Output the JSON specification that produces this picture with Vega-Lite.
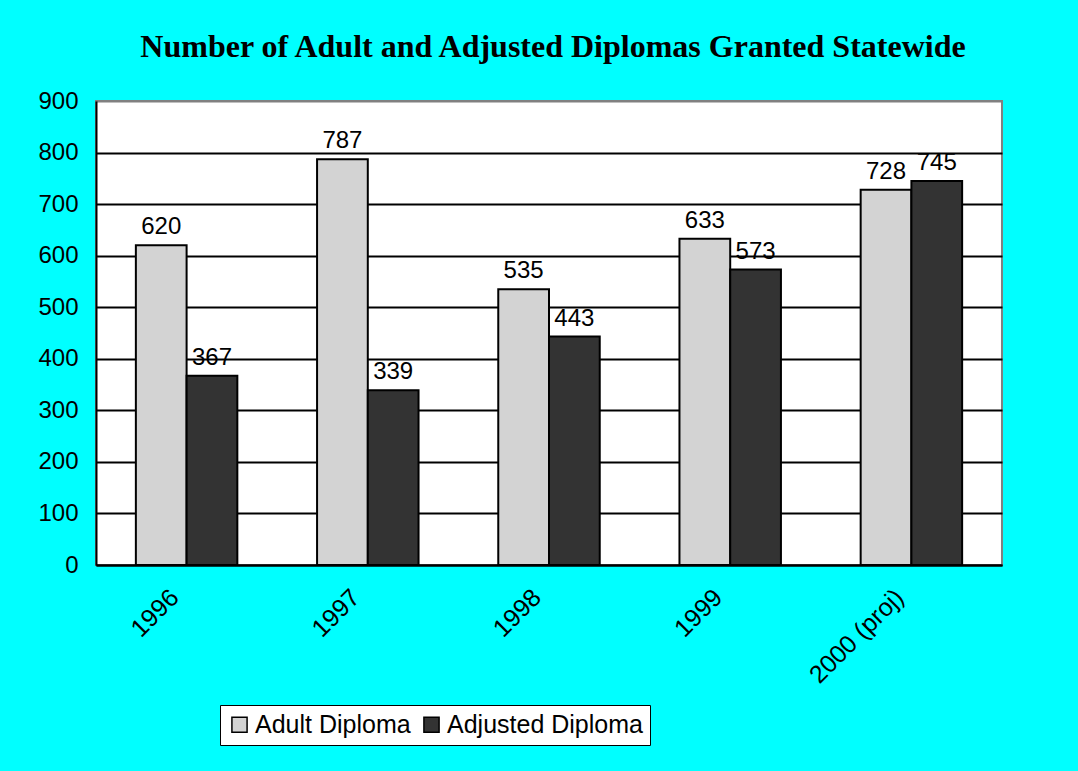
{
  "$schema": "https://vega.github.io/schema/vega-lite/v6.json",
  "autosize": "none",
  "width": 906,
  "height": 464,
  "padding": {"left": 96, "top": 101, "right": 76, "bottom": 206},
  "background": "#00ffff",
  "title": {
    "text": "Number of Adult and Adjusted Diplomas Granted Statewide",
    "font": "Liberation Serif",
    "fontSize": 32,
    "fontWeight": "bold",
    "color": "black",
    "anchor": "middle",
    "dx": 4,
    "offset": 25
  },
  "config": {
    "view": {"fill": "white", "stroke": "#808080", "strokeWidth": 2},
    "font": "Liberation Sans"
  },
  "data": {
    "values": [
      {"year": "1996", "series": "Adult Diploma", "value": 620},
      {"year": "1996", "series": "Adjusted Diploma", "value": 367},
      {"year": "1997", "series": "Adult Diploma", "value": 787},
      {"year": "1997", "series": "Adjusted Diploma", "value": 339},
      {"year": "1998", "series": "Adult Diploma", "value": 535},
      {"year": "1998", "series": "Adjusted Diploma", "value": 443},
      {"year": "1999", "series": "Adult Diploma", "value": 633},
      {"year": "1999", "series": "Adjusted Diploma", "value": 573},
      {"year": "2000 (proj)", "series": "Adult Diploma", "value": 728},
      {"year": "2000 (proj)", "series": "Adjusted Diploma", "value": 745}
    ]
  },
  "encoding": {
    "x": {
      "field": "year",
      "type": "nominal",
      "sort": null,
      "scale": {"paddingInner": 0.44, "paddingOuter": 0.22},
      "axis": {
        "title": null,
        "labelAngle": -45,
        "labelAlign": "right",
        "labelBaseline": "middle",
        "labelFontSize": 25,
        "labelColor": "black",
        "labelPadding": 28,
        "labelOffset": -12,
        "ticks": false,
        "domainColor": "black",
        "domainWidth": 2
      }
    },
    "xOffset": {
      "field": "series",
      "type": "nominal",
      "sort": ["Adult Diploma", "Adjusted Diploma"],
      "scale": {"paddingInner": 0, "paddingOuter": 0}
    },
    "y": {
      "field": "value",
      "type": "quantitative",
      "scale": {"domain": [0, 900], "nice": false},
      "axis": {
        "title": null,
        "values": [0, 100, 200, 300, 400, 500, 600, 700, 800, 900],
        "labelFontSize": 24,
        "labelColor": "black",
        "labelPadding": 18,
        "ticks": false,
        "domainColor": "black",
        "domainWidth": 2,
        "gridColor": {"condition": {"test": "datum.value == 900", "value": "#808080"}, "value": "black"},
        "gridWidth": 2,
        "gridOpacity": 1
      }
    }
  },
  "layer": [
    {
      "mark": {"type": "bar", "stroke": "black", "strokeWidth": 2},
      "encoding": {
        "color": {
          "field": "series",
          "type": "nominal",
          "scale": {"domain": ["Adult Diploma", "Adjusted Diploma"], "range": ["#d3d3d3", "#333333"]},
          "legend": {
            "title": null,
            "orient": "none",
            "legendX": 124,
            "legendY": 604,
            "direction": "horizontal",
            "symbolType": "square",
            "symbolSize": 230,
            "symbolStrokeColor": "black",
            "symbolStrokeWidth": 1.5,
            "symbolOpacity": 1,
            "labelFontSize": 25,
            "labelLimit": 400,
            "labelColor": "black",
            "labelOffset": 3,
            "columnPadding": 8,
            "fillColor": "white",
            "strokeColor": "black",
            "padding": 7
          }
        }
      }
    },
    {
      "mark": {"type": "text", "baseline": "bottom", "dy": -6, "fontSize": 24, "color": "black"},
      "encoding": {
        "text": {"field": "value", "type": "quantitative"}
      }
    }
  ]
}
